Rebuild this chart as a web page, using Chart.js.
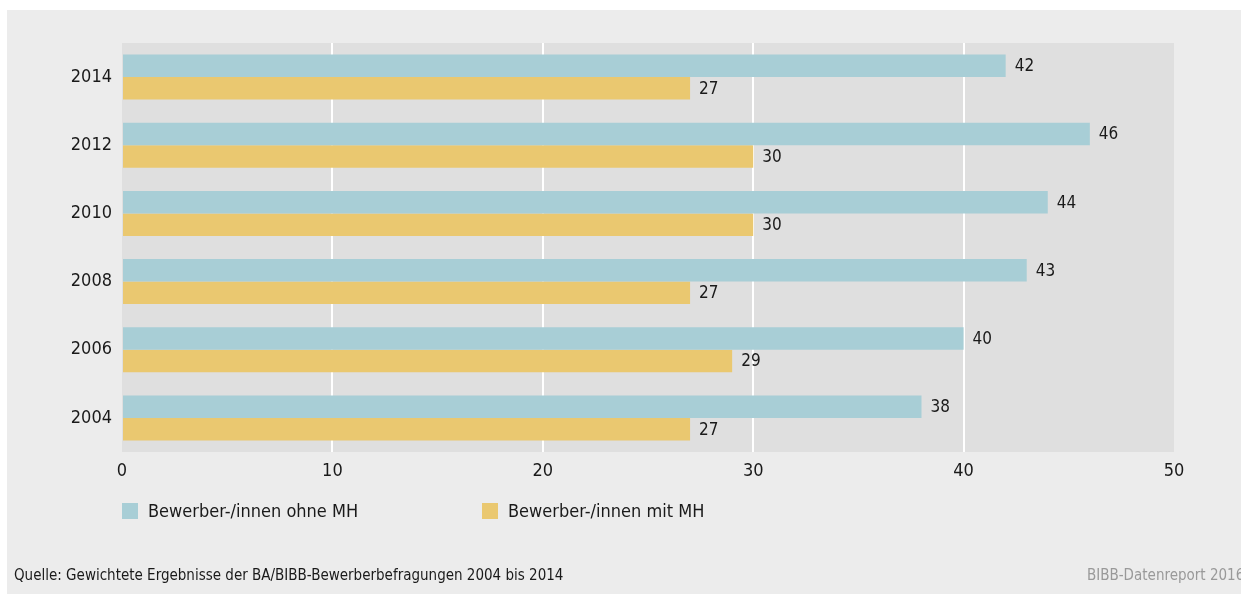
<!DOCTYPE html>
<html>
<head>
<meta charset="utf-8">
<script src="https://cdn.jsdelivr.net/npm/chart.js@4/dist/chart.umd.min.js"></script>
<style>
	body { margin: 0; background: #fff; }
	#wrap { position: relative; width: 1241px; height: 594px; }
</style>
</head>
<body>
<div id="wrap"><canvas id="chart" width="1241" height="594"></canvas></div>
<script>
const years = ['2014', '2012', '2010', '2008', '2006', '2004'];
const ohneMH = [42, 46, 44, 43, 40, 38];
const mitMH = [27, 30, 30, 27, 29, 27];
const seriesNames = ['Bewerber-/innen ohne MH', 'Bewerber-/innen mit MH'];
const sourceText = 'Quelle: Gewichtete Ergebnisse der BA/BIBB-Bewerberbefragungen 2004 bis 2014';
const footerText = 'BIBB-Datenreport 2016';

const FONT = '"Liberation Sans Narrow", "DejaVu Sans Condensed", sans-serif';

// backgrounds, value labels, legend and footer texts
const decor = {
	id: 'decor',
	beforeDraw(chart) {
		const c = chart.ctx, a = chart.chartArea;
		c.save();
		c.fillStyle = '#ececec';
		c.fillRect(7, 10, chart.width - 7, chart.height - 10);
		c.fillStyle = '#dfdfdf';
		c.fillRect(a.left, a.top, a.right - a.left, a.bottom - a.top);
		c.restore();
	},
	afterDatasetsDraw(chart) {
		const c = chart.ctx;
		c.save();
		c.font = '17px ' + FONT;
		c.fillStyle = '#1a1a1a';
		c.textBaseline = 'middle';
		chart.data.datasets.forEach((ds, i) => {
			chart.getDatasetMeta(i).data.forEach((bar, j) => {
				c.fillText(ds.data[j], bar.x + 9, bar.y + 1);
			});
		});
		// legend
		const lx = [122, 482];
		c.font = '18px ' + FONT;
		chart.data.datasets.forEach((ds, i) => {
			c.fillStyle = ds.backgroundColor;
			c.fillRect(lx[i], 503, 16, 16);
			c.fillStyle = '#1a1a1a';
			c.fillText(ds.label, lx[i] + 26, 512);
		});
		c.font = '15px ' + FONT;
		c.fillText(sourceText, 14, 576);
		c.fillStyle = '#999';
		c.fillText(footerText, 1087, 576);
		c.restore();
	}
};

new Chart(document.getElementById('chart'), {
	type: 'bar',
	data: {
		labels: years,
		datasets: [
			{ label: seriesNames[0], data: ohneMH, backgroundColor: '#a8ced6' },
			{ label: seriesNames[1], data: mitMH, backgroundColor: '#eac870' }
		]
	},
	options: {
		indexAxis: 'y',
		responsive: false,
		animation: false,
		categoryPercentage: 0.66,
		barPercentage: 1,
		layout: { padding: { top: 43, right: 67, left: 0, bottom: 0 } },
		plugins: { legend: { display: false }, tooltip: { enabled: false } },
		scales: {
			x: {
				min: 0,
				max: 50,
				ticks: { stepSize: 10, padding: 9, color: '#1a1a1a', font: { family: FONT, size: 18 } },
				grid: {
					drawTicks: false,
					lineWidth: 2,
					color: ctx => (ctx.tick && (ctx.tick.value === 0 || ctx.tick.value === 50)) ? 'rgba(0,0,0,0)' : '#ffffff'
				},
				border: { display: false },
				afterFit: s => { s.height = 142; }
			},
			y: {
				ticks: { padding: 10, color: '#1a1a1a', font: { family: FONT, size: 18 } },
				grid: { display: false, drawTicks: false },
				border: { display: false },
				afterFit: s => { s.width = 122; }
			}
		}
	},
	plugins: [decor]
});
</script>
</body>
</html>
